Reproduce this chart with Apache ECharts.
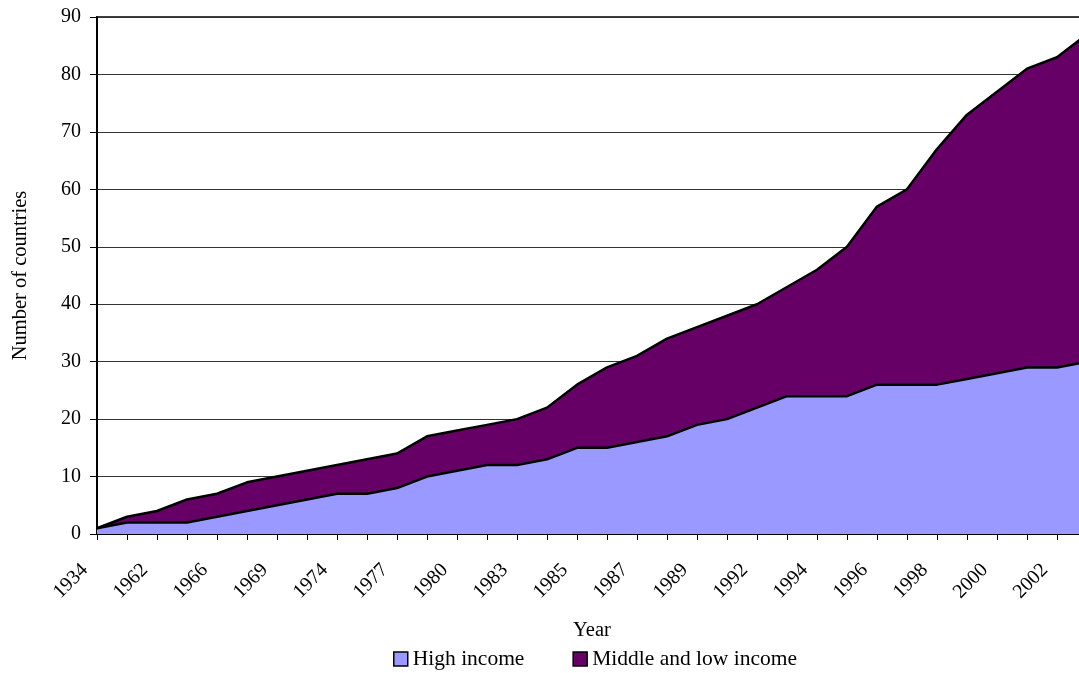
<!DOCTYPE html>
<html>
<head>
<meta charset="utf-8">
<script src="https://cdn.jsdelivr.net/npm/echarts@6/dist/echarts.min.js"></script>
<style>
html,body{margin:0;padding:0;overflow:hidden;background:#fff;}
#chart{width:1100px;height:673px;}
</style>
</head>
<body>
<div id="chart"></div>
<script>
const years = ['1934','1961','1962','1965','1966','1968','1969','1971','1974','1975','1977','1978','1980','1982','1983','1984','1985','1986','1987','1988','1989','1991','1992','1993','1994','1995','1996','1997','1998','1999','2000','2001','2002','2003'];
const highIncome = [1,2,2,2,3,4,5,6,7,7,8,10,11,12,12,13,15,15,16,17,19,20,22,24,24,24,26,26,26,27,28,29,29,30];
const middleLowIncome = [0,1,2,4,4,5,5,5,5,6,6,7,7,7,8,9,11,14,15,17,17,18,18,19,22,26,31,34,41,46,49,52,54,57];
const yTicks = {min:0, max:90, interval:10};

const font = 'Liberation Serif, Times New Roman, serif';
const chart = echarts.init(document.getElementById('chart'));
chart.setOption({
  animation:false,
  textStyle:{fontFamily:font, color:'#000'},
  grid:{left:97, top:17, width:990, height:517, show:true, borderColor:'#000', borderWidth:1.5, backgroundColor:'transparent'},
  legend:{
    left:393, top:648, padding:0, icon:'rect', itemWidth:14, itemHeight:14, itemGap:48,
    itemStyle:{borderColor:'#000', borderWidth:1.5},
    textStyle:{fontFamily:font, fontSize:21.5, color:'#000'},
    data:['High income','Middle and low income']
  },
  xAxis:{
    type:'category', data:years, boundaryGap:false,
    name:'Year', nameLocation:'middle', nameGap:86,
    nameTextStyle:{fontFamily:font, fontSize:20.5, color:'#000'},
    axisLine:{lineStyle:{color:'#000', width:2}},
    axisTick:{show:true, interval:0, length:6, lineStyle:{color:'#000', width:1}},
    axisLabel:{interval:1, rotate:45, margin:21, padding:[0,17,0,0], fontFamily:font, fontSize:20, color:'#000'},
    splitLine:{show:false}
  },
  yAxis:{
    type:'value', min:yTicks.min, max:yTicks.max, interval:yTicks.interval,
    name:'Number of countries', nameLocation:'middle', nameGap:66, nameRotate:90,
    nameTextStyle:{fontFamily:font, fontSize:20.5, color:'#000'},
    axisLine:{show:true, lineStyle:{color:'#000', width:2}},
    axisTick:{show:true, length:7, lineStyle:{color:'#000', width:1}},
    axisLabel:{margin:16, fontFamily:font, fontSize:20, color:'#000'},
    splitLine:{show:true, lineStyle:{color:'#333', width:1}}
  },
  series:[
    {name:'High income', type:'line', stack:'total', data:highIncome, showSymbol:false, symbol:'none',
     itemStyle:{color:'#9999FF'}, lineStyle:{color:'#000', width:2.5}, areaStyle:{color:'#9999FF', opacity:1}},
    {name:'Middle and low income', type:'line', stack:'total', data:middleLowIncome, showSymbol:false, symbol:'none',
     itemStyle:{color:'#660066'}, lineStyle:{color:'#000', width:2.5}, areaStyle:{color:'#660066', opacity:1}}
  ]
});
</script>
</body>
</html>
